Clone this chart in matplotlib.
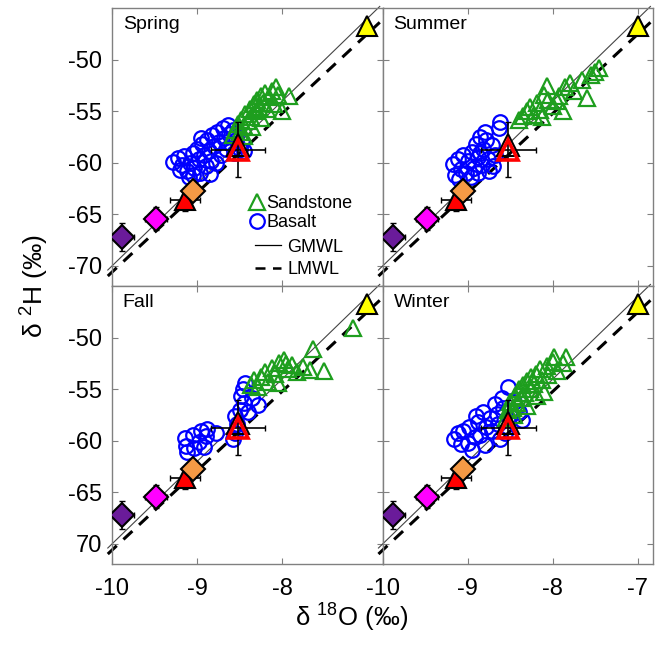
import matplotlib
matplotlib.use('Agg')
import matplotlib.pyplot as plt
from matplotlib.lines import Line2D
import numpy as np

plt.rcParams['font.family'] = ['Liberation Sans', 'DejaVu Sans']
plt.rcParams['mathtext.fontset'] = 'custom'
plt.rcParams['mathtext.rm'] = 'Liberation Sans'
plt.rcParams['axes.unicode_minus'] = False

seasons = ['Spring', 'Summer', 'Fall', 'Winter']

# sandstone (green triangles) and basalt (blue circles), d18O / d2H
sand_x = {
    'Spring': [-8.58, -8.55, -8.52, -8.50, -8.48, -8.45, -8.43, -8.40, -8.38, -8.36, -8.33, -8.31, -8.29, -8.27,
               -8.25, -8.22, -8.20, -8.18, -8.15, -8.12, -8.10, -8.07, -8.05, -8.00, -7.92, -8.35, -8.45, -8.25],
    'Summer': [-8.40, -8.35, -8.30, -8.27, -8.22, -8.18, -8.15, -8.10, -8.07, -8.05, -8.00, -7.95, -7.92, -7.88,
               -7.85, -7.80, -7.75, -7.65, -7.60, -7.55, -7.50, -7.45, -8.12],
    'Fall': [-8.37, -8.33, -8.28, -8.25, -8.20, -8.16, -8.12, -8.08, -8.03, -7.98, -7.93, -7.88, -7.82, -7.75,
             -7.67, -7.63, -7.51, -7.16, -8.05, -7.95],
    'Winter': [-8.55, -8.52, -8.50, -8.47, -8.44, -8.42, -8.40, -8.37, -8.35, -8.32, -8.30, -8.27, -8.25, -8.22,
               -8.20, -8.18, -8.15, -8.12, -8.10, -8.07, -8.05, -8.00, -7.98, -7.95, -7.88, -7.84, -8.30, -8.45],
}
sand_y = {
    'Spring': [-57.3, -56.8, -56.2, -57.0, -55.8, -56.4, -55.2, -55.9, -54.8, -55.5, -54.3, -55.0, -53.9, -54.6,
               -53.5, -54.2, -53.2, -54.8, -53.6, -53.0, -54.3, -52.6, -53.4, -55.0, -53.5, -56.5, -57.4, -55.6],
    'Summer': [-55.8, -55.4, -55.0, -54.6, -55.3, -54.2, -54.9, -53.4, -52.5, -53.9, -54.5, -54.0, -53.5, -55.0,
               -52.6, -52.2, -53.0, -51.9, -53.7, -51.5, -51.2, -50.8, -55.5],
    'Fall': [-54.6, -54.1, -54.8, -53.8, -53.3, -54.3, -52.9, -53.5, -52.4, -52.1, -53.0, -52.6, -53.3, -52.8,
             -53.1, -51.1, -53.2, -49.0, -54.4, -52.5],
    'Winter': [-57.8, -57.0, -56.2, -56.8, -55.6, -56.3, -55.0, -55.8, -54.6, -55.3, -54.2, -55.0, -53.8, -54.5,
               -53.5, -55.6, -53.0, -54.1, -55.2, -52.7, -53.6, -52.3, -51.8, -53.2, -52.4, -51.8, -56.6, -57.5],
}
bas_x = {
    'Spring': [-9.28, -9.22, -9.18, -9.15, -9.12, -9.10, -9.08, -9.05, -9.03, -9.00, -8.98, -8.96, -8.94, -8.92,
               -8.90, -8.88, -8.86, -8.84, -8.82, -8.80, -8.78, -8.76, -8.74, -8.72, -8.70, -8.68, -8.66, -8.64,
               -8.62, -8.60, -8.58, -8.56, -8.54, -8.50, -8.47, -8.45, -9.20, -8.95, -8.85, -9.05],
    'Summer': [-8.62, -8.63, -8.80, -8.85, -8.78, -8.90, -8.82, -8.72, -8.95, -9.05, -9.12, -9.17, -9.00, -8.88,
               -8.76, -8.68, -8.70, -8.83, -8.93, -9.08, -9.15, -9.02, -8.88, -9.10, -8.96, -8.85, -8.75],
    'Fall': [-9.14, -9.13, -9.12, -9.05, -9.03, -8.98, -8.95, -8.92, -8.90, -8.88, -8.78, -8.58, -8.55, -8.53,
             -8.55, -8.50, -8.45, -8.48, -8.46, -8.44, -8.40, -8.28, -8.35],
    'Winter': [-9.16, -9.12, -9.05, -9.00, -8.98, -8.95, -8.92, -8.88, -8.85, -8.82, -8.80, -8.78, -8.74, -8.72,
               -8.68, -8.66, -8.64, -8.60, -8.58, -8.56, -8.52, -8.50, -8.45, -8.40, -8.36, -8.62, -8.90, -9.08],
}
bas_y = {
    'Spring': [-59.9, -59.5, -60.2, -59.3, -60.8, -61.4, -60.0, -59.0, -60.5, -58.6, -59.6, -61.0, -58.2, -59.2,
               -60.3, -57.8, -58.8, -59.8, -57.3, -58.4, -60.0, -57.0, -58.0, -59.2, -56.6, -57.6, -58.6, -56.3,
               -57.2, -58.2, -56.8, -59.0, -57.8, -58.6, -58.0, -58.8, -60.7, -57.6, -61.1, -61.2],
    'Summer': [-56.0, -56.6, -57.0, -57.5, -57.8, -58.2, -58.6, -58.3, -58.9, -59.2, -59.6, -60.1, -59.8, -59.4,
               -59.6, -59.2, -60.3, -60.2, -60.5, -60.6, -61.2, -61.0, -61.0, -61.6, -61.4, -59.0, -60.8],
    'Fall': [-59.7, -60.5, -61.1, -59.4, -60.7, -60.1, -59.0, -60.6, -59.5, -58.8, -59.2, -59.8, -59.2, -58.4,
             -57.6, -57.0, -56.3, -55.6, -55.0, -54.4, -57.2, -56.5, -55.8],
    'Winter': [-59.8, -59.2, -59.0, -60.2, -58.6, -60.9, -59.6, -58.2, -59.4, -57.2, -60.4, -58.6, -57.8, -59.0,
               -56.4, -57.4, -58.4, -55.8, -56.8, -59.2, -54.8, -57.6, -56.2, -57.2, -58.0, -59.8, -57.6, -60.3],
}

# reference points shown in every panel: x, y, x error, y error
diam_x = [-9.88, -9.48, -9.05]
diam_y = [-67.2, -65.4, -62.7]
diam_xerr = [0.14, 0.13, 0.10]
diam_yerr = [1.4, 1.1, 0.6]
diam_col = ['#6a1b9a', '#ff00ff', '#f59a45']

redfill_x, redfill_y, redfill_xerr, redfill_yerr = -9.14, -63.6, 0.18, 1.05
mean_x, mean_y, mean_xerr, mean_yerr = -8.52, -58.7, 0.32, 2.7
yellow_x, yellow_y = -7.0, -46.7

line_x = [-10.05, -6.85]
gmwl = [8.0, 10.0]
lmwl = [7.7, 6.4]

fig = plt.figure(figsize=(6.61, 6.60), dpi=100)
lefts = [0.1695, 0.579]
bottoms = [0.5667, 0.1455]
w, h = 0.4095, 0.4212
green = '#1e9e1e'

for i, s in enumerate(seasons):
    r, c = divmod(i, 2)
    ax = fig.add_axes([lefts[c], bottoms[r], w, h])
    lx = np.array(line_x)
    ax.plot(lx, gmwl[0] * lx + gmwl[1], color='#444444', lw=0.8, clip_on=False, zorder=2)
    ax.plot(lx, lmwl[0] * lx + lmwl[1], color='black', lw=2.2, ls=(0, (4, 3)), clip_on=False, zorder=2)
    ax.plot(bas_x[s], bas_y[s], 'o', ms=10.5, mfc='none', mec='blue', mew=1.6, zorder=3)
    ax.plot(sand_x[s], sand_y[s], '^', ms=11, mfc='none', mec=green, mew=1.6, zorder=4)

    ax.errorbar(diam_x, diam_y, xerr=diam_xerr, yerr=diam_yerr, fmt='none', ecolor='black', elinewidth=1.2,
                capsize=2.5, zorder=5)
    ax.errorbar([redfill_x], [redfill_y], xerr=[redfill_xerr], yerr=[redfill_yerr], fmt='none', ecolor='black',
                elinewidth=1.2, capsize=2.5, zorder=5)
    ax.errorbar([mean_x], [mean_y], xerr=[mean_xerr], yerr=[mean_yerr], fmt='none', ecolor='black',
                elinewidth=1.2, capsize=2.5, zorder=6)
    ax.plot([redfill_x], [redfill_y], '^', ms=14, mfc='red', mec='black', mew=1.5, zorder=7)
    for dx, dy, dc in zip(diam_x, diam_y, diam_col):
        ax.plot([dx], [dy], 'D', ms=12.5, mfc=dc, mec='black', mew=1.5, zorder=7)
    ax.plot([mean_x], [mean_y + 0.4], '^', ms=16, mfc='none', mec='black', mew=1.5, zorder=7)
    ax.plot([mean_x], [mean_y], '^', ms=14, mfc='none', mec='red', mew=2.6, zorder=8)
    ax.plot([yellow_x], [yellow_y], '^', ms=15, mfc='yellow', mec='black', mew=1.5, zorder=8, clip_on=False)

    ax.set_xlim(-10, -6.815)
    ax.set_ylim(-71.95, -44.95)
    ax.set_xticks([-10, -9, -8] if c == 0 else [-10, -9, -8, -7])
    ax.set_yticks([-70, -65, -60, -55, -50])
    ax.tick_params(direction='in', top=True, right=True, length=4, width=0.8, color='#808080',
                   labelsize=17, pad=7)
    ax.tick_params(axis='x', pad=10)
    for sp in ax.spines.values():
        sp.set_color('#808080')
        sp.set_linewidth(1.0)
    if c == 1:
        ax.set_yticklabels([])
    elif r == 1:
        ax.set_yticklabels(['70', '-65', '-60', '-55', '-50'])
    if r == 0:
        ax.set_xticklabels([])
    ax.text(0.04, 0.97, s, transform=ax.transAxes, fontsize=14, va='top', ha='left')

    if i == 0:
        h1 = [Line2D([], [], ls='none', marker='^', ms=11, mfc='none', mec=green, mew=1.6),
              Line2D([], [], ls='none', marker='o', ms=10.5, mfc='none', mec='blue', mew=1.6)]
        leg1 = ax.legend(h1, ['Sandstone', 'Basalt'], loc='upper left', bbox_to_anchor=(0.51, 0.327),
                         frameon=False, fontsize=13, handlelength=0.8, handletextpad=0.1, borderpad=0,
                         borderaxespad=0, labelspacing=0.1)
        ax.add_artist(leg1)
        h2 = [Line2D([], [], color='black', lw=0.9),
              Line2D([], [], color='black', lw=1.8, ls=(0, (4, 3)))]
        ax.legend(h2, ['GMWL', 'LMWL'], loc='upper left', bbox_to_anchor=(0.53, 0.17), frameon=False,
                  fontsize=13, handlelength=1.4, handletextpad=0.35, borderpad=0, borderaxespad=0,
                  labelspacing=0.3)

fig.text(0.532, 0.066, '\u03b4 $^{18}$O (\u2030)', fontsize=18.5, ha='center', va='center')
fig.text(0.05, 0.566, '\u03b4 $^{2}$H (\u2030)', fontsize=19, ha='center', va='center', rotation=90)

fig.savefig('out.png', dpi=100)
